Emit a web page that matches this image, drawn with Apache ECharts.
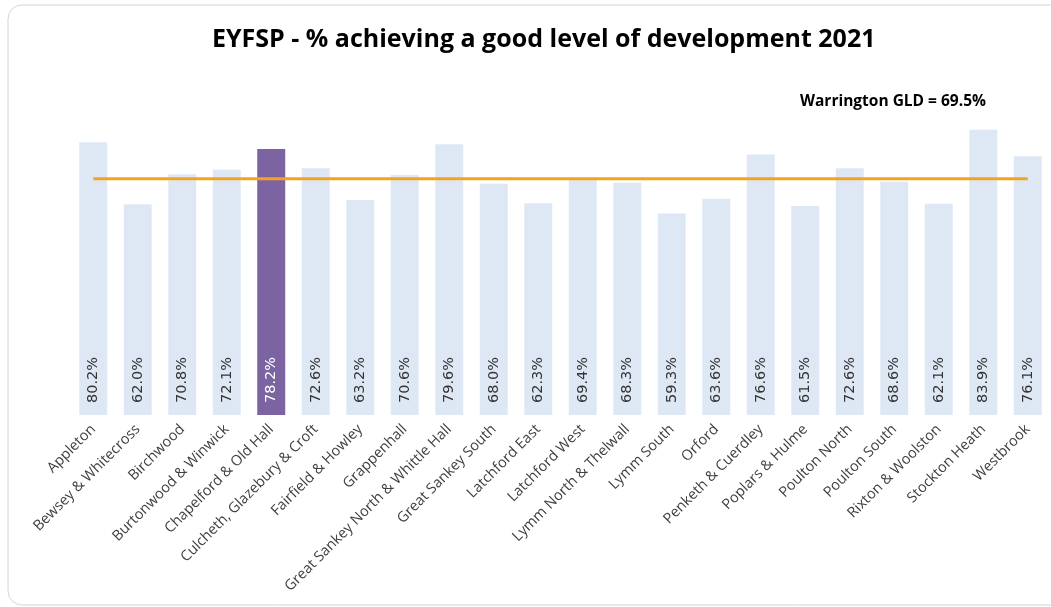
<!DOCTYPE html>
<html>
<head>
<meta charset="utf-8">
<script src="https://cdn.jsdelivr.net/npm/echarts@6/dist/echarts.min.js"></script>
<style>
  html, body { margin: 0; padding: 0; background: #fff; }
  #main { width: 1051px; height: 607px; }
</style>
</head>
<body>
<div id="main"></div>
<script>
const wards = ['Appleton', 'Bewsey & Whitecross', 'Birchwood', 'Burtonwood & Winwick',
  'Chapelford & Old Hall', 'Culcheth, Glazebury & Croft', 'Fairfield & Howley', 'Grappenhall',
  'Great Sankey North & Whittle Hall', 'Great Sankey South', 'Latchford East', 'Latchford West',
  'Lymm North & Thelwall', 'Lymm South', 'Orford', 'Penketh & Cuerdley', 'Poplars & Hulme',
  'Poulton North', 'Poulton South', 'Rixton & Woolston', 'Stockton Heath', 'Westbrook']
const gldValues = [80.2, 62.0, 70.8, 72.1, 78.2, 72.6, 63.2, 70.6, 79.6, 68.0, 62.3, 69.4,
  68.3, 59.3, 63.6, 76.6, 61.5, 72.6, 68.6, 62.1, 83.9, 76.1]
const warringtonGld = 69.5
const highlightWard = 'Chapelford & Old Hall'

const chart = echarts.init(document.getElementById('main'))

const barData = gldValues.map((v, i) => {
  const hi = wards[i] === highlightWard
  return {
    value: v,
    itemStyle: { color: hi ? '#7b64a1' : '#dee8f4' },
    label: { color: hi ? '#ffffff' : '#333333' }
  }
})

const option = {
  animation: false,
  title: [
    {
      text: 'EYFSP - % achieving a good level of development 2021',
      left: 207,
      top: 22,
      textStyle: { fontFamily: 'Open Sans', fontSize: 25, fontWeight: 'bold', color: '#000' }
    },
    {
      text: 'Warrington GLD = ' + warringtonGld.toFixed(1) + '%',
      left: 795,
      top: 89,
      textStyle: { fontFamily: 'Open Sans', fontSize: 15.5, fontWeight: 'bold', color: '#000' }
    }
  ],
  graphic: [
    {
      type: 'rect',
      shape: { x: 8, y: 5, width: 1070, height: 600, r: 14 },
      style: { fill: 'none', stroke: '#d4d4d4', lineWidth: 1 },
      silent: true
    }
  ],
  grid: { left: 71, right: 1, top: 75, bottom: 192 },
  xAxis: {
    type: 'category',
    data: wards,
    axisLine: { show: false },
    axisTick: { show: false },
    axisLabel: {
      rotate: 45,
      interval: 0,
      margin: 12,
      fontFamily: 'Open Sans',
      fontSize: 14.5,
      color: '#404040'
    }
  },
  yAxis: {
    type: 'value',
    min: 0,
    max: 100,
    show: false
  },
  series: [
    {
      type: 'bar',
      data: barData,
      barWidth: 28,
      label: {
        show: true,
        position: 'insideBottom',
        rotate: 90,
        align: 'left',
        verticalAlign: 'middle',
        distance: 12,
        fontFamily: 'DejaVu Sans',
        fontSize: 14.5,
        formatter: p => p.value.toFixed(1) + '%'
      }
    },
    {
      type: 'line',
      data: wards.map(() => warringtonGld),
      symbol: 'none',
      lineStyle: { color: '#f5a31f', width: 3 },
      z: 5
    }
  ]
}

chart.setOption(option)
</script>
</body>
</html>
